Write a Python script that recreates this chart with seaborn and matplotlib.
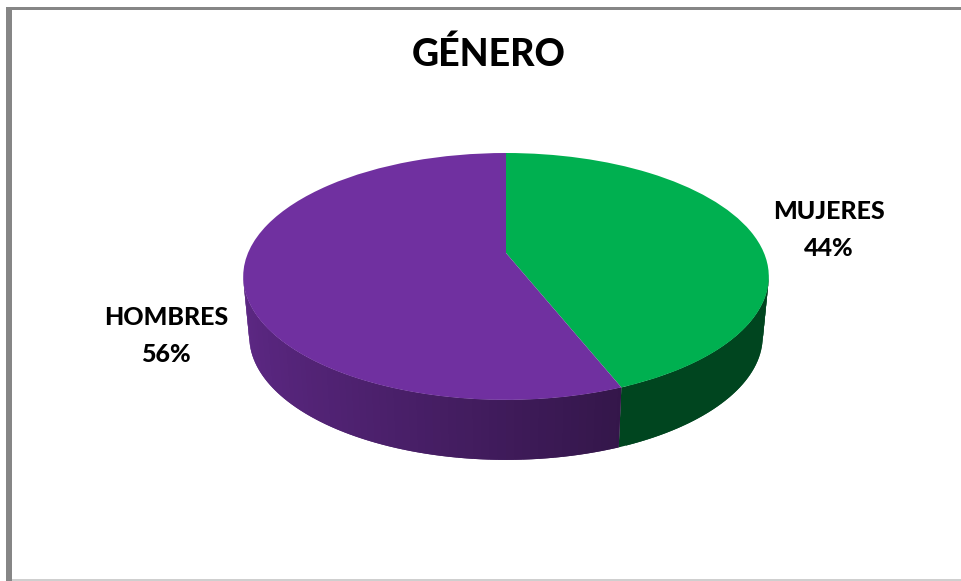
import numpy as np
import seaborn as sns
import matplotlib
matplotlib.use("Agg")
import matplotlib.pyplot as plt
from matplotlib.transforms import Transform

categories = ["MUJERES", "HOMBRES"]
values = [44, 56]
title = "GÉNERO"

sns.set_theme(style="white")
plt.rcParams["font.family"] = ["Lato", "DejaVu Sans"]
top_colors = sns.color_palette(["#00B050", "#7030A0"])

# tilt of the pie, in pixels of the picture
cx, cy = 506, 253
rx, ry, k = 258, 119, 0.19
depth, shrink = 60, 0.977


class TiltTransform(Transform):
    # unit circle -> perspective ellipse
    input_dims = output_dims = 2

    def transform_non_affine(self, values):
        xy = np.asarray(values, dtype=float)
        w = 1 + k * xy[:, 1]
        return np.column_stack([cx + rx * xy[:, 0] / w, cy - ry * xy[:, 1] / w])


tilt = TiltTransform()

fig, ax = plt.subplots(figsize=(9.61, 5.81), dpi=100)
fig.subplots_adjust(0, 0, 1, 1)

wedges, _ = ax.pie(values, colors=top_colors, startangle=90, counterclock=False,
                   wedgeprops={"linewidth": 0})
for w in wedges:
    w.set_transform(tilt + ax.transData)
    w.set_zorder(3)

ax.set_aspect("auto")
ax.set_xlim(0, 961)
ax.set_ylim(581, 0)
ax.axis("off")


def rim(t):
    return tilt.transform_non_affine(np.column_stack([np.cos(np.radians(t)), np.sin(np.radians(t))]))


# side wall, overlapping strips so the shade can change along it without seams
for w, col in zip(wedges, top_colors):
    a, b = sorted([w.theta1, w.theta2])
    if a < 0 and b < 0:
        a, b = a + 360, b + 360
    for t0 in np.arange(a, b, 1.5):
        t1 = min(t0 + 3, b)
        t_mid = t0 + 0.75
        if np.sin(np.radians(t_mid)) > -k:
            continue
        p = rim(np.array([t0, t1]))
        q = np.column_stack([cx + (p[:, 0] - cx) * shrink, p[:, 1] + depth])
        xm = np.cos(np.radians(t_mid))
        if col == top_colors[0]:
            f = 0.39
        else:
            f = np.interp(xm, [-1, 0.42], [0.83, 0.45])
        shade = tuple(c * f for c in col)
        ax.fill([p[0, 0], p[1, 0], q[1, 0], q[0, 0]], [p[0, 1], p[1, 1], q[1, 1], q[0, 1]],
                color=shade, lw=0, zorder=2)

ax.text(489, 54, title, ha="center", va="center", fontsize=27, fontweight="black", color="black")
ax.text(829, 230, f"{categories[0]}\n{values[0]}%", ha="center", va="center", fontsize=18,
        fontweight="black", color="black", linespacing=1.75)
ax.text(166, 336, f"{categories[1]}\n{values[1]}%", ha="center", va="center", fontsize=18,
        fontweight="black", color="black", linespacing=1.75)

# picture frame: heavy left and top, faint bottom
ax.fill_between([6, 12], 7, 581, color="#868686", lw=0, zorder=5)
ax.fill_between([6, 961], 7, 9.5, color="#868686", lw=0, zorder=5)
ax.fill_between([12, 961], 579.3, 581, color="#cfcfcf", lw=0, zorder=5)

fig.savefig("out.png", dpi=100, facecolor="white")
